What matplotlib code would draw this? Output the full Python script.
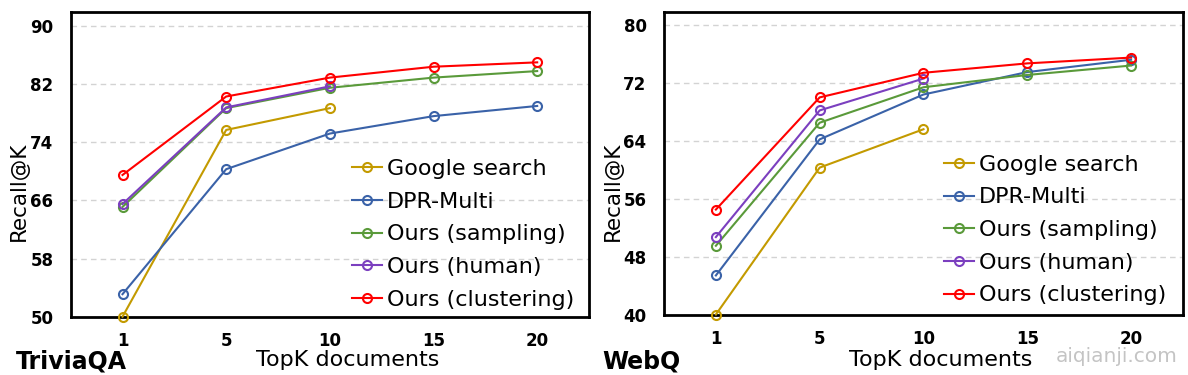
from matplotlib import pyplot as plt
import numpy as np

# TopK values on the x axis (categorical)
topk = ['1', '5', '10', '15', '20']

labels = ['Google search', 'DPR-Multi', 'Ours (sampling)', 'Ours (human)', 'Ours (clustering)']
colors = ['#C39A00', '#3A62A8', '#5A9A3A', '#7B3FBF', '#FF0000']

# TriviaQA recall@K
tqa_google = [50.0, 75.7, 78.7]
tqa_dpr = [53.1, 70.3, 75.2, 77.6, 79.0]
tqa_sampling = [65.1, 78.7, 81.5, 82.9, 83.8]
tqa_human = [65.5, 78.8, 81.7]
tqa_cluster = [69.5, 80.3, 82.9, 84.4, 85.0]

# WebQ recall@K
wq_google = [40.0, 60.3, 65.6]
wq_dpr = [45.4, 64.2, 70.4, 73.5, 75.2]
wq_sampling = [49.5, 66.5, 71.4, 73.1, 74.4]
wq_human = [50.7, 68.2, 72.6]
wq_cluster = [54.5, 70.0, 73.4, 74.7, 75.5]

fig = plt.figure(figsize=(11.88, 3.75), dpi=100)

panels = [
    dict(rect=[0.0595, 0.1555, 0.4363, 0.8133], data=[tqa_google, tqa_dpr, tqa_sampling, tqa_human, tqa_cluster],
         yticks=np.arange(50, 91, 8), ylim=(50, 91.97), name='TriviaQA', name_x=0.0135,
         ylab_x=0.016, xlab_x=0.2925, leg=(0.543, 0.517)),
    dict(rect=[0.5589, 0.1613, 0.4369, 0.8075], data=[wq_google, wq_dpr, wq_sampling, wq_human, wq_cluster],
         yticks=np.arange(40, 81, 8), ylim=(40, 81.84), name='WebQ', name_x=0.507,
         ylab_x=0.516, xlab_x=0.792, leg=(0.539, 0.528)),
]

for p in panels:
    ax = fig.add_axes(p['rect'])
    for vals, lab, c in zip(p['data'], labels, colors):
        ax.plot(np.arange(len(vals)), vals, color=c, lw=1.5, marker='o', ms=6.5,
                mfc='none', mec=c, mew=1.5, label=lab, clip_on=False, zorder=3)
    ax.set_xlim(-0.5, 4.5)
    ax.set_ylim(*p['ylim'])
    ax.set_xticks(np.arange(len(topk)))
    ax.set_xticklabels(topk)
    ax.set_yticks(p['yticks'])
    ax.tick_params(length=0, labelsize=12)
    ax.tick_params(axis='x', pad=11)
    ax.tick_params(axis='y', pad=12.5)
    for t in ax.get_xticklabels() + ax.get_yticklabels():
        t.set_fontweight('bold')
    ax.yaxis.grid(True, ls=(0, (4, 3)), color='#d3d3d3', lw=1)
    ax.set_axisbelow(True)
    for s in ax.spines.values():
        s.set_linewidth(2)
    ax.legend(loc='upper left', bbox_to_anchor=p['leg'], frameon=False, fontsize=16,
              handlelength=1.35, handletextpad=0.22, labelspacing=0.57,
              borderpad=0, borderaxespad=0)
    fig.text(p['ylab_x'], 0.489, 'Recall@K', rotation=90, fontsize=15.5, ha='center', va='center')
    fig.text(p['xlab_x'], 0.04, 'TopK documents', fontsize=16, ha='center', va='center')
    fig.text(p['name_x'], 0.037, p['name'], fontsize=17, fontweight='bold', ha='left', va='center')

fig.text(0.991, 0.048, 'aiqianji.com', fontsize=14.5, color='#c4c4c4', ha='right', va='center')

plt.savefig('out.png', dpi=100)
